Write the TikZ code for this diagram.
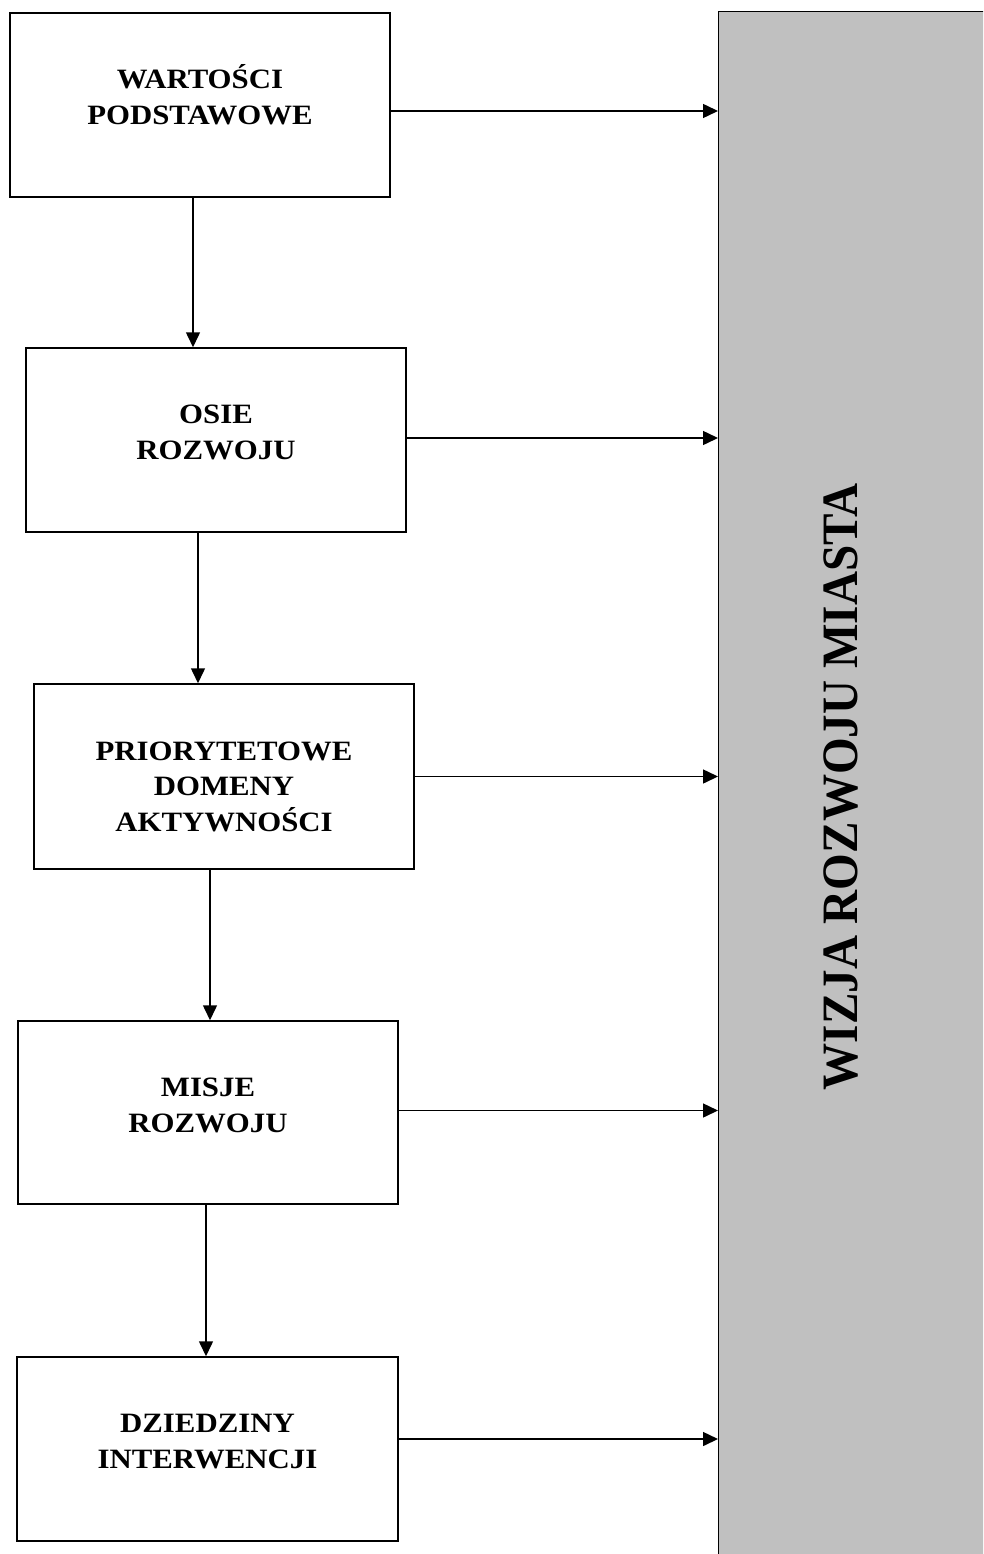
\documentclass[tikz,border=0pt]{standalone}
\usepackage{fontspec}
\setmainfont{Liberation Serif}
\usetikzlibrary{arrows.meta}
\tikzset{
  boxnode/.style={draw=black, line width=1.5pt, rectangle, inner sep=0pt, minimum width=380pt, minimum height=184pt},
  lbl/.style={font=\bfseries\fontsize{28}{35.7}\selectfont, align=center, anchor=base, inner sep=0pt, xscale=1.1},
  arr/.style={line width=1.5pt, -{Triangle[length=15pt,width=14pt]}},
  barnode/.style={draw=black, line width=1.3pt, fill=bargray, rectangle, inner sep=0pt, minimum width=320pt, minimum height=1600pt, anchor=north west},
}
\definecolor{bargray}{HTML}{C0C0C0}
\begin{document}
\begin{tikzpicture}[x=1pt,y=-1pt]
\useasboundingbox (0,0) rectangle (983,1554);
\clip (0,0) rectangle (983,1554);
\node[barnode] (bar) at (718,11) {};
\node[font=\bfseries\fontsize{51}{51}\selectfont, rotate=90, xscale=0.924, anchor=base, inner sep=0pt] (vis) at (857,787) {WIZJA ROZWOJU MIASTA};

\node[boxnode] (b1) at (200,105) {};
\node[boxnode] (b2) at (216,440) {};
\node[boxnode, minimum height=185pt] (b3) at (224,776.5) {};
\node[boxnode, minimum height=183pt] (b4) at (208,1112.5) {};
\node[boxnode, minimum width=381pt] (b5) at (207.5,1449) {};

\node[lbl] (t1) at ([yshift=-19.7pt]b1.center) {WARTOŚCI\\PODSTAWOWE};
\node[lbl] (t2) at ([yshift=-19pt]b2.center) {OSIE\\ROZWOJU};
\node[lbl] (t3) at ([yshift=-55pt]b3.center) {PRIORYTETOWE\\DOMENY\\AKTYWNOŚCI};
\node[lbl] (t4) at ([yshift=-20pt]b4.center) {MISJE\\ROZWOJU};
\node[lbl] (t5) at ([yshift=-19pt]b5.center) {DZIEDZINY\\INTERWENCJI};

\draw[arr] ([yshift=-6pt]b1.east) -- ([yshift=-6pt]b1.east -| bar.west);
\draw[arr] ([yshift=2pt]b2.east) -- ([yshift=2pt]b2.east -| bar.west);
\draw[arr] (b3.east) -- (b3.east -| bar.west);
\draw[arr] ([yshift=2pt]b4.east) -- ([yshift=2pt]b4.east -| bar.west);
\draw[arr] ([yshift=10pt]b5.east) -- ([yshift=10pt]b5.east -| bar.west);

\draw[arr] ([xshift=-7pt]b1.south) -- ([xshift=-7pt]b1.south |- b2.north);
\draw[arr] ([xshift=-18pt]b2.south) -- ([xshift=-18pt]b2.south |- b3.north);
\draw[arr] ([xshift=-14pt]b3.south) -- ([xshift=-14pt]b3.south |- b4.north);
\draw[arr] ([xshift=-2pt]b4.south) -- ([xshift=-2pt]b4.south |- b5.north);
\end{tikzpicture}
\end{document}
